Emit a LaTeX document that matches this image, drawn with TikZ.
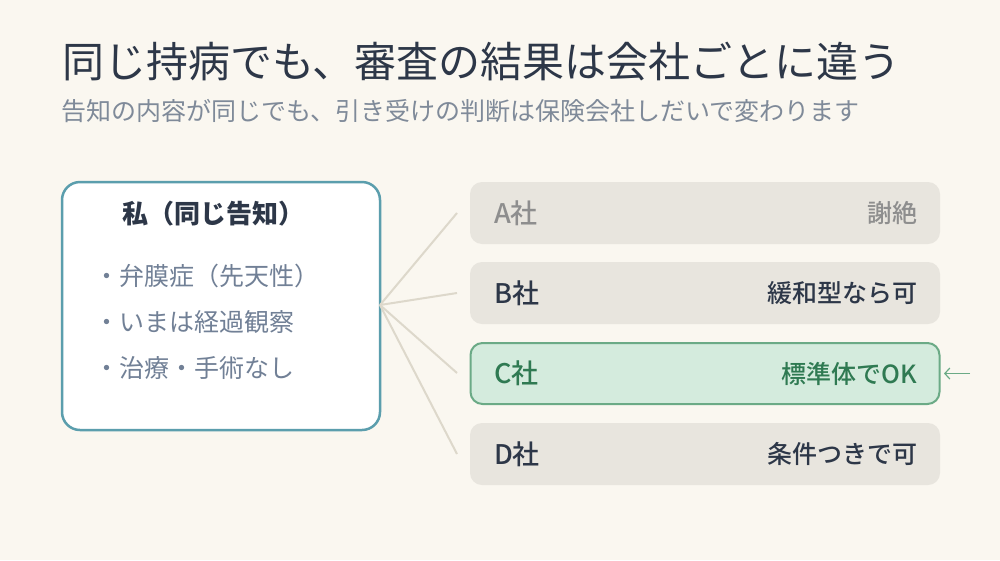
\documentclass[tikz,border=0pt]{standalone}
\usepackage{fontspec}
\setmainfont{Noto Sans CJK JP}
\newfontfamily\jpmed{Noto Sans CJK JP Medium}
\usetikzlibrary{arrows.meta}
\definecolor{bg}{HTML}{FAF7F0}
\definecolor{ink}{HTML}{2D3748}
\definecolor{sub}{HTML}{7F8A99}
\definecolor{item}{HTML}{718096}
\definecolor{teal}{HTML}{5B9EAD}
\definecolor{card}{HTML}{E8E5DE}
\definecolor{muted}{HTML}{8E8E8E}
\definecolor{okfill}{HTML}{D4EBDD}
\definecolor{okline}{HTML}{6BAA86}
\definecolor{oktext}{HTML}{2F7A52}
\definecolor{link}{HTML}{DDD8CB}
\tikzset{
  txt/.style={inner sep=0pt, outer sep=0pt},
  card/.style={draw=none, fill=card, rounded corners=12pt, minimum width=470pt, minimum height=62pt, inner sep=0pt},
  okcard/.style={draw=okline, line width=2pt, fill=okfill, rounded corners=12pt, minimum width=469pt, minimum height=61pt, inner sep=0pt},
  clabel/.style={txt, anchor=west, font=\fontsize{27pt}{30pt}\selectfont\jpmed},
  cres/.style={txt, anchor=east, font=\fontsize{25pt}{30pt}\selectfont\jpmed},
  conn/.style={draw=link, line width=2pt},
  bullet/.style={txt, anchor=west, text=item, font=\fontsize{25pt}{30pt}\selectfont}
}
\begin{document}
\begin{tikzpicture}[x=1pt,y=-1pt]
\fill[bg] (0,0) rectangle (1000,560);
\useasboundingbox (0,0) rectangle (1000,560);
% title
\node[txt, anchor=west, text=ink, font=\fontsize{42pt}{48pt}\selectfont] (title) at (62,62) {同じ持病でも、審査の結果は会社ごとに違う};
\node[txt, anchor=west, text=sub, font=\fontsize{25pt}{30pt}\selectfont] (subtitle) at (61,111) {告知の内容が同じでも、引き受けの判断は保険会社しだいで変わります};
% left box
\node[draw=teal, line width=2.5pt, fill=white, rounded corners=18pt, minimum width=318pt, minimum height=248pt, inner sep=0pt] (me) at (221,306) {};
\node[txt, text=ink, font=\fontsize{26pt}{30pt}\selectfont\bfseries] (metitle) at (213,214) {私（同じ告知）};
\node[bullet] (i1) at (94,276) {・弁膜症（先天性）};
\node[bullet] (i2) at (94,322) {・いまは経過観察};
\node[bullet] (i3) at (94,368) {・治療・手術なし};
% cards
\node[card] (A) at (705,213) {};
\node[card] (B) at (705,293) {};
\node[okcard] (C) at (705,373.5) {};
\node[card] (D) at (705,454) {};
\node[clabel, text=muted] (Al) at (494,213) {A社};
\node[cres, text=muted] (Ar) at (917,213) {謝絶};
\node[clabel, text=ink] (Bl) at (494,293) {B社};
\node[cres, text=ink] (Br) at (917,293) {緩和型なら可};
\node[clabel, text=oktext] (Cl) at (494,373.5) {C社};
\node[cres, text=oktext] (Cr) at (917,373.5) {標準体でOK};
\node[clabel, text=ink] (Dl) at (494,454) {D社};
\node[cres, text=ink] (Dr) at (917,454) {条件つきで可};
% connectors
\coordinate (hub) at (380,305);
\coordinate (ea) at (457,213);
\coordinate (eb) at (457,293);
\coordinate (ec) at (457,373);
\coordinate (ed) at (457,454);
\draw[conn] (hub) -- (ea);
\draw[conn] (hub) -- (eb);
\draw[conn] (hub) -- (ec);
\draw[conn] (hub) -- (ed);
% pointer arrow
\coordinate (ptail) at (970,373.5);
\coordinate (phead) at (944,373.5);
\draw[okline, line width=1.2pt, -{Straight Barb[length=5pt,width=11pt]}] (ptail) -- (phead);
\end{tikzpicture}
\end{document}
